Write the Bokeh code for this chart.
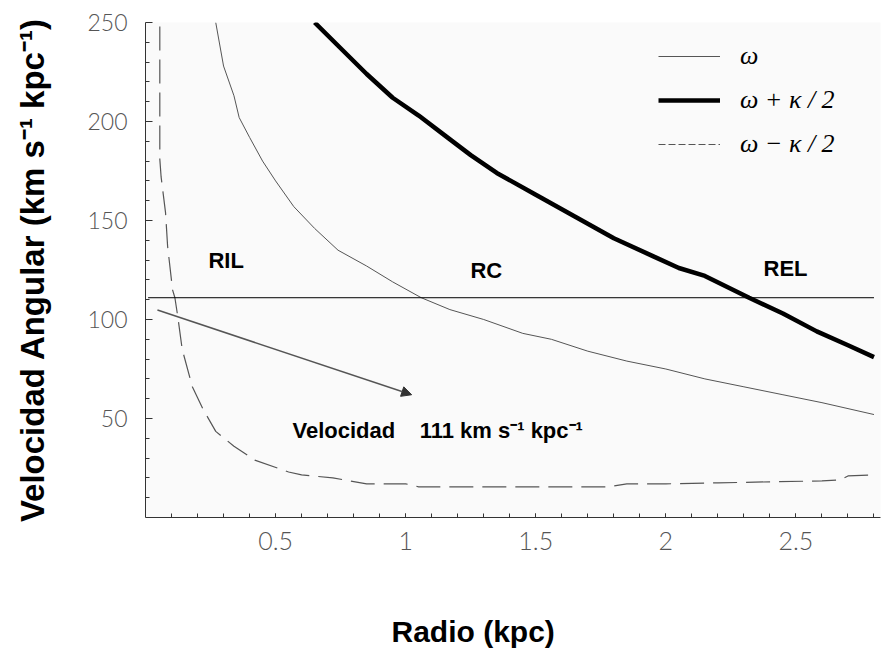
from bokeh.plotting import figure
from bokeh.models import (FixedTicker, CustomJSTickFormatter, Legend, LegendItem,
                          Label, Arrow, NormalHead, Range1d, ColumnDataSource, Title)
from bokeh.core.properties import value
from bokeh.embed import file_html
from bokeh.resources import INLINE

# ---------------- data ----------------
omega_r = [0.27, 0.30, 0.34, 0.36, 0.40, 0.45, 0.50, 0.57, 0.65, 0.74, 0.85, 0.95,
           1.06, 1.17, 1.30, 1.45, 1.56, 1.70, 1.85, 2.00, 2.15, 2.30, 2.45, 2.60, 2.80]
omega = [250, 228, 213, 202, 192, 180, 170, 157, 146, 135, 127, 119,
         111, 105, 100, 93, 90, 84, 79, 75, 70, 66, 62, 58, 52]

plus_r = [0.65, 0.75, 0.85, 0.95, 1.05, 1.15, 1.25, 1.35, 1.50, 1.65, 1.80, 1.95,
          2.05, 2.15, 2.32, 2.45, 2.58, 2.70, 2.80]
plus = [250, 237, 224, 212, 203, 193, 183, 174, 163, 152, 141, 132,
        126, 122, 111, 103, 94, 87, 81]

minus_r = [0.055, 0.055, 0.06, 0.077, 0.085, 0.104, 0.113, 0.124, 0.141, 0.18, 0.22,
           0.27, 0.34, 0.42, 0.55, 0.60, 0.72, 0.85, 1.00, 1.05, 1.20, 1.40, 1.60,
           1.78, 1.85, 2.00, 2.20, 2.40, 2.60, 2.67, 2.70, 2.80]
minus = [248, 181, 172, 154, 137, 115, 111, 101.5, 85, 66, 55,
         43.5, 36, 29, 23, 21.5, 20, 17, 17, 15.5, 15.5, 15.5, 15.5,
         15.5, 17, 17, 17.5, 18, 18.5, 19, 21, 21.5]

corot_value = 111
corot_r = [0.01, 2.80]

x_ticks = [0.5, 1, 1.5, 2, 2.5]
x_minor = [round(0.1 * i, 1) for i in range(1, 29)]
y_ticks = [50, 100, 150, 200, 250]
y_minor = list(range(10, 250, 10))

region_labels = ["RIL", "RC", "REL"]
region_r = [0.31, 1.31, 2.46]
region_v = [130, 125, 126]

note_text = "Velocidad\u00a0\u00a0\u00a0\u00a0111 km s\u207b\u00b9 kpc\u207b\u00b9"
note_r, note_v = 0.565, 43.8
arrow_start = (0.046, 104.8)
arrow_end = (1.023, 62)

legend_labels = ["\u03c9", "\u03c9 + \u03ba / 2", "\u03c9 \u2212 \u03ba / 2"]
nan = float("nan")

# ---------------- figure ----------------
p = figure(width=882, height=650, output_backend="svg", toolbar_location=None,
           x_range=Range1d(0, 2.825), y_range=Range1d(0, 250),
           min_border_left=145, min_border_right=2, min_border_top=22,
           min_border_bottom=132)
p.outline_line_color = None
p.background_fill_color = "#fafafa"
p.border_fill_color = "white"
p.xgrid.visible = False
p.ygrid.visible = False

tick_font = "'Lato Light', 'Liberation Sans'"

# x axis
xa = p.xaxis[0]
xa.ticker = FixedTicker(ticks=x_ticks, minor_ticks=x_minor)
xa.formatter = CustomJSTickFormatter(code="return String(tick)")
xa.axis_line_color = "#333333"
xa.major_tick_line_color = "#333333"
xa.minor_tick_line_color = "#333333"
xa.major_tick_in = 4
xa.major_tick_out = 0
xa.minor_tick_in = 4
xa.minor_tick_out = 0
xa.major_label_text_font = tick_font
xa.major_label_text_font_size = "25px"
xa.major_label_text_color = "#555555"
xa.major_label_standoff = 14
# blank axis label used only as vertical spacing before the x title
xa.axis_label = "\u00a0"
xa.axis_label_text_font_size = "10px"
xa.axis_label_standoff = 43

# y axis
ya = p.yaxis[0]
ya.ticker = FixedTicker(ticks=y_ticks, minor_ticks=y_minor)
ya.axis_line_color = "#333333"
ya.major_tick_line_color = "#333333"
ya.minor_tick_line_color = "#333333"
ya.major_tick_in = 7
ya.major_tick_out = 0
ya.minor_tick_in = 4
ya.minor_tick_out = 0
ya.major_label_text_font = tick_font
ya.major_label_text_font_size = "23px"
ya.major_label_text_color = "#555555"
ya.major_label_standoff = 18
ya.axis_label = "Velocidad Angular (km s\u207b\u00b9 kpc\u207b\u00b9)"
ya.axis_label_text_font = "Liberation Sans"
ya.axis_label_text_font_style = "bold"
ya.axis_label_text_font_size = "33px"
ya.axis_label_text_color = "black"
ya.axis_label_standoff = 33

# x title
p.add_layout(Title(text="Radio (kpc)", align="left", offset=246, standoff=6,
                   text_font="Liberation Sans", text_font_style="bold",
                   text_font_size="30px", text_color="black"), "below")

# curves
r_omega = p.line(omega_r, omega, line_color="#555555", line_width=1)
r_plus = p.line(plus_r, plus, line_color="black", line_width=4.5)
r_minus = p.line(minus_r, minus, line_color="#555555", line_width=1.2,
                 line_dash="24 9")
# legend swatch for the dashed series (shorter dashes, as in the reference key)
r_minus_key = p.line(x=[nan], y=[nan], line_color="#555555", line_width=1.2,
                     line_dash="7 3")

# corotation line
p.line(corot_r, [corot_value, corot_value], line_color="black", line_width=1)

# region labels
src = ColumnDataSource(dict(x=region_r, y=region_v, t=region_labels))
p.text(x="x", y="y", text="t", source=src, text_font=value("Liberation Sans"),
       text_font_style="bold", text_font_size="22px", text_align="center",
       text_baseline="middle", text_color="black")

# note + arrow
p.add_layout(Label(x=note_r, y=note_v, text=note_text,
                   text_font="Liberation Sans", text_font_style="bold",
                   text_font_size="22px", text_align="left",
                   text_baseline="middle", text_color="black"))
p.add_layout(Arrow(x_start=arrow_start[0], y_start=arrow_start[1],
                   x_end=arrow_end[0], y_end=arrow_end[1],
                   line_color="#555555", line_width=1.5,
                   end=NormalHead(size=10, fill_color="#333333",
                                  line_color="#333333")))

# legend
legend = Legend(items=[LegendItem(label=legend_labels[0], renderers=[r_omega]),
                       LegendItem(label=legend_labels[1], renderers=[r_plus]),
                       LegendItem(label=legend_labels[2], renderers=[r_minus_key])],
                location=(513, 358))
legend.background_fill_alpha = 0
legend.border_line_color = None
legend.padding = 0
legend.margin = 0
legend.glyph_width = 62
legend.glyph_height = 20
legend.label_height = 20
legend.label_standoff = 20
legend.spacing = 14
legend.label_text_font = "Liberation Serif"
legend.label_text_font_style = "italic"
legend.label_text_font_size = "26px"
legend.label_text_color = "black"
p.add_layout(legend)

open("out.html", "w").write(file_html(p, INLINE))
